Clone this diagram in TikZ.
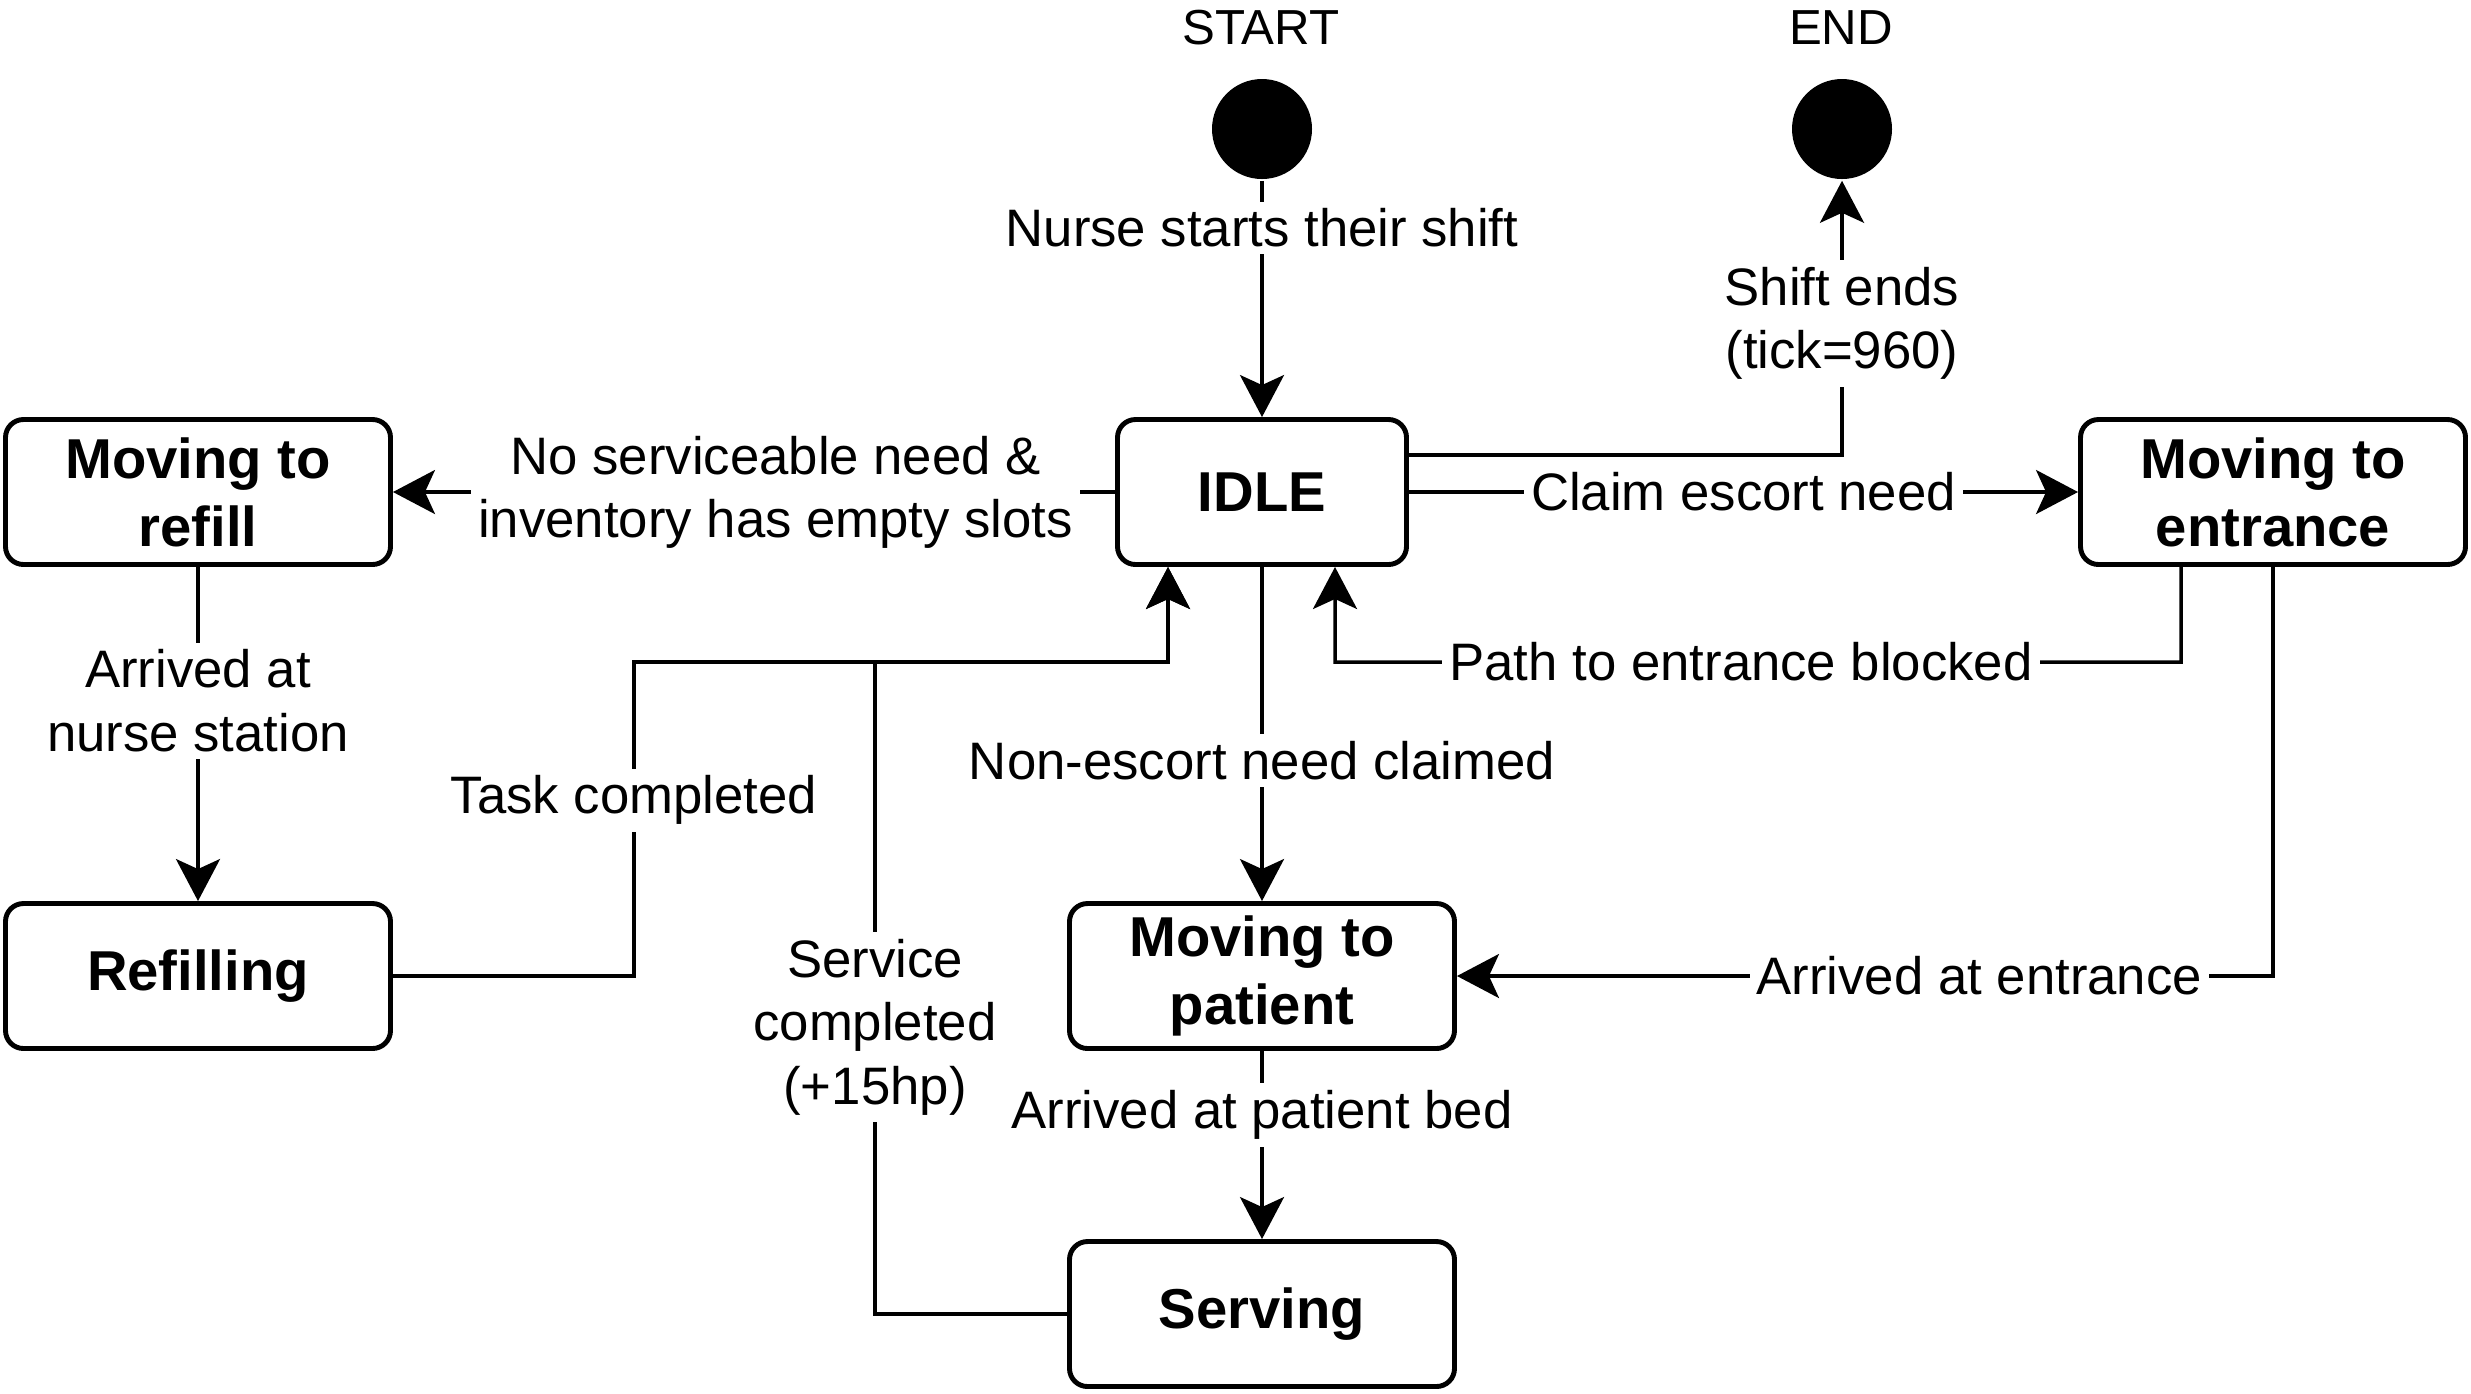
\documentclass[tikz,border=0pt]{standalone}
\usepackage{fontspec}
\setmainfont{Liberation Sans}
\usetikzlibrary{arrows.meta}

\begin{document}
\begin{tikzpicture}[line width=1pt,
        >={Stealth[length=4.2mm, width=4.4mm, inset=1mm]},
        state/.style={draw, line width=1.4pt, rounded corners=0.18cm, minimum width=3.85cm, minimum height=1.45cm, align=center, font=\fontsize{16}{19.3}\selectfont\bfseries},
        lbl/.style={fill=white, inner sep=2pt, align=center, font=\fontsize{15}{18}\selectfont},
        dot/.style={circle, fill, minimum size=1cm, inner sep=0pt}]
        \useasboundingbox (0,0) rectangle (24.71,-13.93);
        \node[font=\fontsize{14}{17}\selectfont] (startlbl) at (12.61,-0.28) {START};
        \node[font=\fontsize{14}{17}\selectfont] (endlbl) at (18.41,-0.28) {END};
        \node[dot] (start) at (12.62,-1.29) {};
        \node[dot] (end) at (18.42,-1.29) {};
        \node[state, minimum width=2.89cm] (idle) at (12.62,-4.92) {IDLE};
        \node[state] (refill) at (1.98,-4.92) {Moving to\\refill};
        \node[state] (entrance) at (22.73,-4.92) {Moving to\\entrance};
        \node[state] (refilling) at (1.98,-9.76) {Refilling};
        \node[state] (patient) at (12.62,-9.76) {Moving to\\patient};
        \node[state] (serving) at (12.62,-13.14) {Serving};
        \draw[->] (start) -- node[lbl, pos=0.2] {Nurse starts their shift} (idle);
        \draw[->] ([yshift=0.37cm]idle.east) -| node[lbl, pos=0.74] {Shift ends\\(tick=960)} (end);
        \draw[->] (idle) -- node[lbl] {Claim escort need} (entrance);
        \draw[->] (idle) -- node[lbl, pos=0.47] {No serviceable need \&\\inventory has empty slots} (refill);
        \draw[->] (refill) -- node[lbl, pos=0.4] {Arrived at\\nurse station} (refilling);
        \draw[->] (refilling) -| node[lbl, pos=0.78] {Task completed} (6.34,-6.62) -| ([xshift=-0.94cm]idle.south);
        \draw[->] (serving) -| node[lbl, pos=0.72] {Service\\completed\\(+15hp)} (8.75,-6.62) -| ([xshift=-0.94cm]idle.south);
        \draw[->] (idle) -- node[lbl, pos=0.58] {Non-escort need claimed} (patient);
        \draw[->] ([xshift=-0.92cm]entrance.south) |- node[lbl, pos=0.76] {Path to entrance blocked} (13.35,-6.62) -- ([xshift=0.73cm]idle.south);
        \draw[->] (entrance) |- node[lbl, pos=0.68] {Arrived at entrance} (patient);
        \draw[->] (patient) -- node[lbl, pos=0.34] {Arrived at patient bed} (serving);
    \end{tikzpicture}
\end{document}
